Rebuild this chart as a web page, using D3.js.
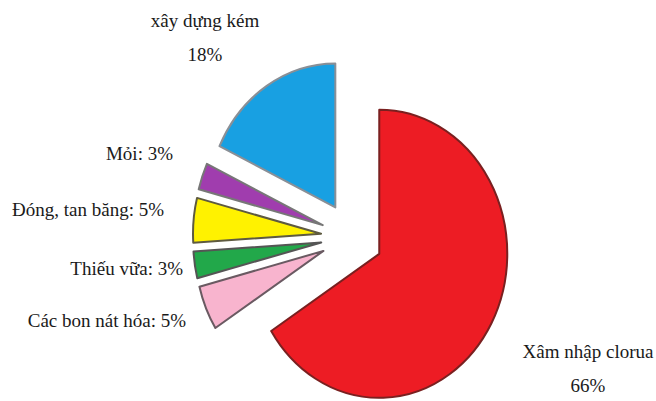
<!DOCTYPE html>
<html>
<head>
<meta charset="utf-8">
<script src="https://cdn.jsdelivr.net/npm/d3@7"></script>
</head>
<body style="margin:0">
<svg width="656" height="401"></svg>
<script>
// Data, clockwise from 12 o'clock
const categories = ["Xâm nhập clorua", "Các bon nát hóa", "Thiếu vữa", "Đóng, tan băng", "Mỏi", "xây dựng kém"];
const values = [66, 5, 3, 5, 3, 18];
const labelTexts = [
  ["Xâm nhập clorua", "66%"],
  ["Các bon nát hóa: 5%"],
  ["Thiếu vữa: 3%"],
  ["Đóng, tan băng: 5%"],
  ["Mỏi: 3%"],
  ["xây dựng kém", "18%"]
];

const fills   = ["#ED1C24", "#F8B4CE", "#22A84A", "#FFF200", "#A03DAE", "#18A0E2"];
const strokes = ["#7A2020", "#6A5A62", "#555555", "#5E5A40", "#777777", "#8A8F96"];

// label layout: x, baseline y, anchor
const labelPos = [
  { x: 588, y: 358, anchor: "middle" },
  { x: 186, y: 327, anchor: "end" },
  { x: 183, y: 275, anchor: "end" },
  { x: 164, y: 216, anchor: "end" },
  { x: 173, y: 160, anchor: "end" },
  { x: 205, y: 27, anchor: "middle" }
];

const cx = 352, cy = 237,
      radius = 144,
      squeeze = 0.889,
      explode = 35,
      lineGap = 34;

const svg = d3.select("svg");

const pie = d3.pie().sort(null).value(d => d);
const arcs = pie(values);

const arc = d3.arc()
  .innerRadius(0)
  .outerRadius(radius);

const g = svg.append("g")
  .attr("transform", `translate(${cx},${cy}) scale(${squeeze},1)`);

g.selectAll("path")
  .data(arcs)
  .enter()
  .append("path")
  .attr("d", arc)
  .attr("transform", d => {
    const mid = (d.startAngle + d.endAngle) / 2;
    return `translate(${explode * Math.sin(mid)},${-explode * Math.cos(mid)})`;
  })
  .attr("fill", (d, i) => fills[i])
  .attr("stroke", (d, i) => strokes[i])
  .attr("stroke-width", 2)
  .attr("stroke-linejoin", "round")
  .attr("vector-effect", "non-scaling-stroke");

// Labels: one text element per line
const lines = labelTexts.flatMap((rows, i) =>
  rows.map((t, j) => ({ t, x: labelPos[i].x, y: labelPos[i].y + j * lineGap, anchor: labelPos[i].anchor })));

svg.selectAll("text")
  .data(lines)
  .enter()
  .append("text")
  .attr("x", d => d.x)
  .attr("y", d => d.y)
  .attr("text-anchor", d => d.anchor)
  .attr("font-family", "Liberation Serif")
  .style("font-family", "Liberation Serif")
  .style("font-size", "19px")
  .attr("fill", "#1a1a1a")
  .text(d => d.t);
</script>
</body>
</html>
